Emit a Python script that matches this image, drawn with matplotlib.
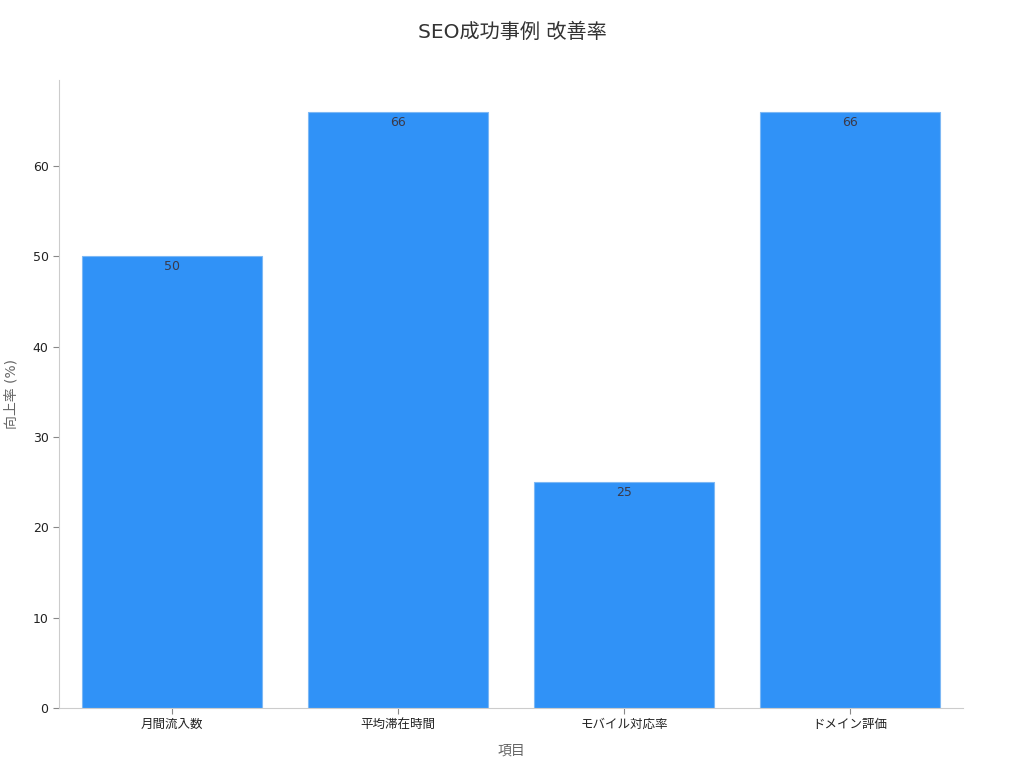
import matplotlib
matplotlib.use("Agg")
import matplotlib.pyplot as plt

plt.rcParams['font.family'] = ['DejaVu Sans', 'Noto Sans CJK JP']

categories = ["月間流入数", "平均滞在時間", "モバイル対応率", "ドメイン評価"]
values = [50, 66, 25, 66]
title = "SEO成功事例 改善率"
xlabel = "項目"
ylabel = "向上率 (%)"

fig = plt.figure(figsize=(10.24, 7.68), dpi=100)
ax = fig.add_axes([0.0576, 0.078, 0.8828, 0.818])

bars = ax.bar(range(len(categories)), values, width=0.8, color="#3092F7",
              edgecolor="#7DB8F5", linewidth=0.8)
for b, v in zip(bars, values):
    ax.annotate(f"{v}", (b.get_x() + b.get_width() / 2, v),
                xytext=(0, -3), textcoords="offset points",
                ha="center", va="top", fontsize=9, color="#3a3a4a")

ax.set_xlim(-0.5, 3.5)
ax.set_ylim(0, 69.5)
ax.set_xticks(range(len(categories)))
ax.set_xticklabels(categories)
ax.set_yticks([0, 10, 20, 30, 40, 50, 60])
ax.tick_params(axis="both", labelsize=9, colors="#222222", length=4, color="#888888")
ax.tick_params(axis="x", pad=3)
for s in ["top", "right"]:
    ax.spines[s].set_visible(False)
for s in ["left", "bottom"]:
    ax.spines[s].set_color("#cccccc")
ax.set_xlabel(xlabel, fontsize=10, color="#666666", labelpad=9)
ax.set_ylabel(ylabel, fontsize=10, color="#666666", labelpad=10)
fig.suptitle(title, fontsize=14.5, color="#333333", y=0.97)

fig.savefig("out.png", dpi=100)
